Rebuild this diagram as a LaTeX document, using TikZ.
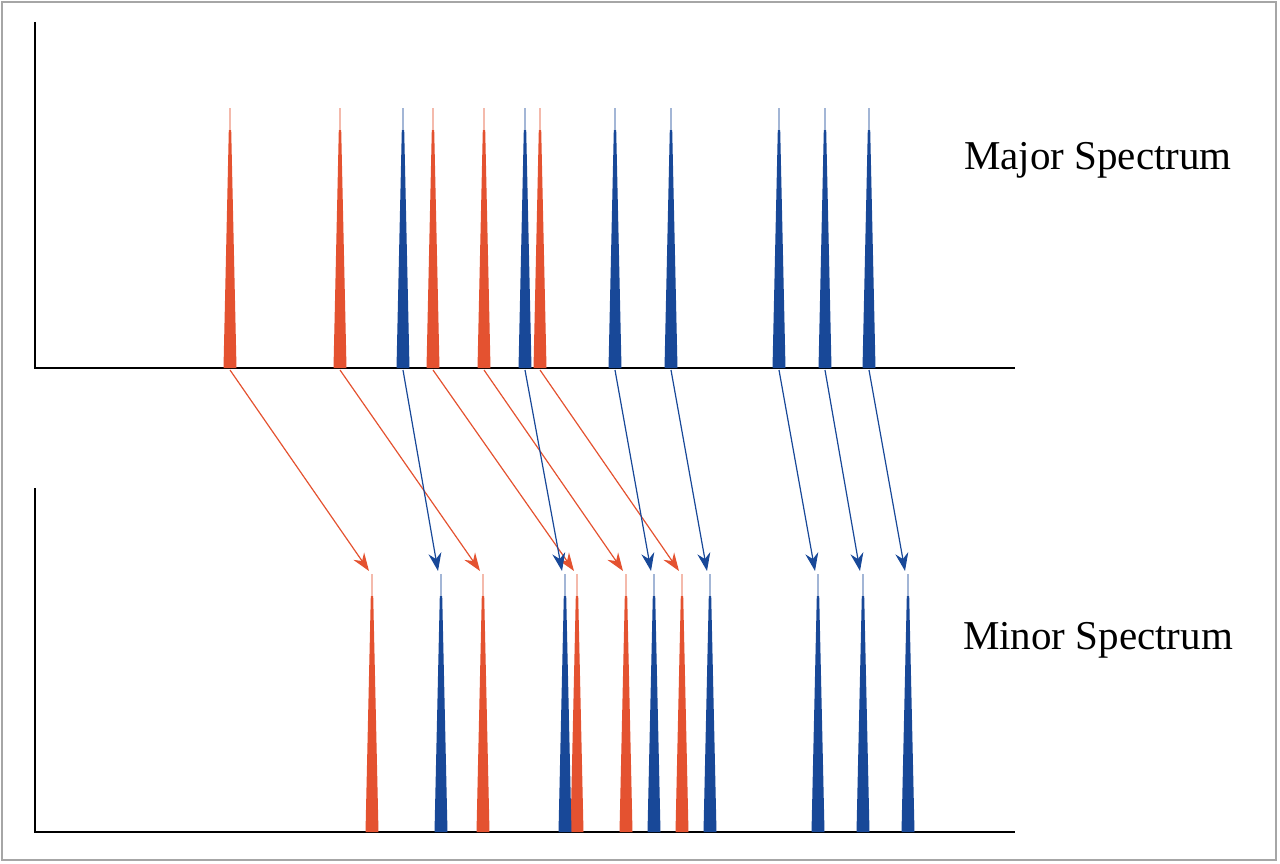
\documentclass[tikz,border=0pt]{standalone}
\usepackage{fontspec}
\setmainfont{Liberation Serif}
\usetikzlibrary{arrows.meta}
\definecolor{rd}{RGB}{228,82,48}
\definecolor{bl}{RGB}{24,72,152}
\tikzset{ax/.style={line width=2.2pt,black},
 conn/.style={line width=1.2pt,-{Stealth[length=18pt,width=13pt]}},
 lab/.style={font=\fontsize{41}{45}\selectfont,anchor=center}}
\newcommand{\pk}[5]{% name,x,base,top,color
 \fill[#5] (#2-6.5,#3) -- (#2-1.2,#4+22) -- (#2+1.2,#4+22) -- (#2+6.5,#3) -- cycle;
 \draw[#5!40,line width=1.2pt] (#2,#4+22) -- (#2,#4);
 \coordinate (#1b) at (#2,#3+2);
 \coordinate (#1t) at (#2-3,#4-3);}
\begin{document}
\begin{tikzpicture}[x=1pt,y=-1pt]
\useasboundingbox (0,0) rectangle (1280,864);
\draw[gray!70,line width=2pt] (2,2) rectangle (1276,860);
\draw[ax] (35,22) -- (35,368) -- (1015,368);
\draw[ax] (35,488) -- (35,832) -- (1015,832);
\node[lab] (major) at (1098,160) {Major Spectrum};
\node[lab] (minor) at (1098,640) {Minor Spectrum};
% top
\pk{A}{230}{368}{108}{rd}\pk{B}{340}{368}{108}{rd}\pk{C}{403}{368}{108}{bl}
\pk{D}{433}{368}{108}{rd}\pk{E}{484}{368}{108}{rd}\pk{F}{525}{368}{108}{bl}
\pk{G}{540}{368}{108}{rd}\pk{H}{615}{368}{108}{bl}\pk{I}{671}{368}{108}{bl}
\pk{J}{779}{368}{108}{bl}\pk{K}{825}{368}{108}{bl}\pk{L}{869}{368}{108}{bl}
% bottom
\pk{a}{372}{832}{574}{rd}\pk{b}{483}{832}{574}{rd}\pk{c}{441}{832}{574}{bl}
\pk{d}{577}{832}{574}{rd}\pk{e}{626}{832}{574}{rd}\pk{f}{565}{832}{574}{bl}
\pk{g}{682}{832}{574}{rd}\pk{h}{654}{832}{574}{bl}\pk{i}{710}{832}{574}{bl}
\pk{j}{818}{832}{574}{bl}\pk{k}{863}{832}{574}{bl}\pk{l}{908}{832}{574}{bl}
\foreach \u/\v in {A/a,B/b,D/d,E/e,G/g}{\draw[conn,rd] (\u b) -- (\v t);}
\foreach \u/\v in {C/c,F/f,H/h,I/i,J/j,K/k,L/l}{\draw[conn,bl] (\u b) -- (\v t);}
\end{tikzpicture}
\end{document}
